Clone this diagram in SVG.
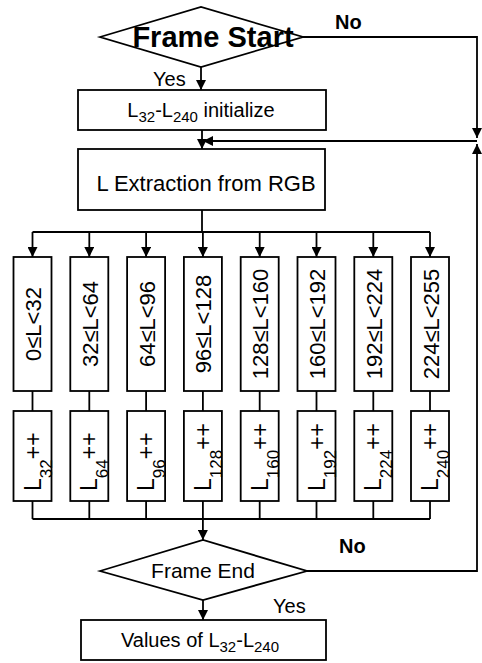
<svg xmlns="http://www.w3.org/2000/svg" width="482" height="663" viewBox="0 0 482 663">
<defs>
<marker id="ah" viewBox="0 0 10 10" refX="10" refY="5" markerWidth="11" markerHeight="10" markerUnits="userSpaceOnUse" orient="auto">
<path d="M0,0 L10,5 L0,10 Z" fill="#000"/>
</marker>
<style>
.box{fill:#fff;stroke:#000;stroke-width:1.8}
.ln{fill:none;stroke:#000;stroke-width:1.8}
.arr{fill:none;stroke:#000;stroke-width:1.8;marker-end:url(#ah)}
text{font-family:"Liberation Sans",Arial,sans-serif;fill:#000}
.rng{font-size:22px;text-anchor:middle}
.cnt{font-size:23px}
.sub{font-size:17px}
</style>
</defs>
<rect width="482" height="663" fill="#fff"/>
<g id="connectors">
<line class="arr" x1="201" y1="67" x2="201" y2="90"/>
<line class="arr" x1="202" y1="130" x2="202" y2="149"/>
<polyline class="arr" points="303,37 477,37 477,138"/>
<polyline class="arr" points="307,571 477,571 477,144"/>
<line class="arr" x1="477" y1="141" x2="203" y2="141"/>
<line class="ln" x1="202" y1="210" x2="202" y2="232"/>
<line class="ln" x1="32.5" y1="232" x2="430" y2="232"/>
<line class="arr" x1="32.5" y1="232" x2="32.5" y2="257"/>
<line class="arr" x1="89.3" y1="232" x2="89.3" y2="257"/>
<line class="arr" x1="146.1" y1="232" x2="146.1" y2="257"/>
<line class="arr" x1="202.9" y1="232" x2="202.9" y2="257"/>
<line class="arr" x1="259.7" y1="232" x2="259.7" y2="257"/>
<line class="arr" x1="316.5" y1="232" x2="316.5" y2="257"/>
<line class="arr" x1="373.3" y1="232" x2="373.3" y2="257"/>
<line class="arr" x1="430" y1="232" x2="430" y2="257"/>
<path class="ln" d="M32.5,391V411M89.3,391V411M146.1,391V411M202.9,391V411M259.7,391V411M316.5,391V411M373.3,391V411M430,391V411"/>
<path class="ln" d="M32.5,501V519M89.3,501V519M146.1,501V519M202.9,501V519M259.7,501V519M316.5,501V519M373.3,501V519M430,501V519M32.5,519H430"/>
<line class="arr" x1="202.9" y1="519" x2="202.9" y2="540"/>
<line class="arr" x1="203" y1="600" x2="203" y2="620"/>
</g>
<g id="frame-start">
<polygon class="box" points="100,37 201,7 303,37 201,67"/>
<text x="213" y="47" font-size="29" font-weight="bold" text-anchor="middle">Frame Start</text>
</g>
<text x="335" y="29" font-size="20" font-weight="bold">No</text>
<text x="153" y="86" font-size="20">Yes</text>
<g id="init">
<rect class="box" x="78" y="90" width="248" height="40"/>
<text x="201" y="117" font-size="20" text-anchor="middle">L<tspan font-size="15" dy="5">32</tspan><tspan dy="-5">-L</tspan><tspan font-size="15" dy="5">240</tspan><tspan dy="-5"> initialize</tspan></text>
</g>
<g id="extraction">
<rect class="box" x="78" y="149" width="247" height="61"/>
<text x="206" y="191" font-size="22" text-anchor="middle">L Extraction from RGB</text>
</g>
<g id="range-0"><rect class="box" x="13.5" y="257" width="38" height="134"/><text class="rng" transform="translate(41,324) rotate(-90)">0≤L&lt;32</text></g>
<g id="range-32"><rect class="box" x="70.3" y="257" width="38" height="134"/><text class="rng" transform="translate(97.8,324) rotate(-90)">32≤L&lt;64</text></g>
<g id="range-64"><rect class="box" x="127.1" y="257" width="38" height="134"/><text class="rng" transform="translate(154.6,324) rotate(-90)">64≤L&lt;96</text></g>
<g id="range-96"><rect class="box" x="183.9" y="257" width="38" height="134"/><text class="rng" transform="translate(211.4,324) rotate(-90)">96≤L&lt;128</text></g>
<g id="range-128"><rect class="box" x="240.7" y="257" width="38" height="134"/><text class="rng" transform="translate(268.2,324) rotate(-90)">128≤L&lt;160</text></g>
<g id="range-160"><rect class="box" x="297.5" y="257" width="38" height="134"/><text class="rng" transform="translate(325,324) rotate(-90)">160≤L&lt;192</text></g>
<g id="range-192"><rect class="box" x="354.3" y="257" width="38" height="134"/><text class="rng" transform="translate(381.8,324) rotate(-90)">192≤L&lt;224</text></g>
<g id="range-224"><rect class="box" x="411" y="257" width="38" height="134"/><text class="rng" transform="translate(438.5,324) rotate(-90)">224≤L&lt;255</text></g>
<g id="count-32"><rect class="box" x="13.5" y="411" width="38" height="90"/><text class="cnt" transform="translate(40.5,491) rotate(-90)">L<tspan class="sub" dy="11">32</tspan><tspan dy="-11">++</tspan></text></g>
<g id="count-64"><rect class="box" x="70.3" y="411" width="38" height="90"/><text class="cnt" transform="translate(97.3,491) rotate(-90)">L<tspan class="sub" dy="11">64</tspan><tspan dy="-11">++</tspan></text></g>
<g id="count-96"><rect class="box" x="127.1" y="411" width="38" height="90"/><text class="cnt" transform="translate(154.1,491) rotate(-90)">L<tspan class="sub" dy="11">96</tspan><tspan dy="-11">++</tspan></text></g>
<g id="count-128"><rect class="box" x="183.9" y="411" width="38" height="90"/><text class="cnt" transform="translate(210.9,491) rotate(-90)">L<tspan class="sub" dy="11">128</tspan><tspan dy="-11">++</tspan></text></g>
<g id="count-160"><rect class="box" x="240.7" y="411" width="38" height="90"/><text class="cnt" transform="translate(267.7,491) rotate(-90)">L<tspan class="sub" dy="11">160</tspan><tspan dy="-11">++</tspan></text></g>
<g id="count-192"><rect class="box" x="297.5" y="411" width="38" height="90"/><text class="cnt" transform="translate(324.5,491) rotate(-90)">L<tspan class="sub" dy="11">192</tspan><tspan dy="-11">++</tspan></text></g>
<g id="count-224"><rect class="box" x="354.3" y="411" width="38" height="90"/><text class="cnt" transform="translate(381.3,491) rotate(-90)">L<tspan class="sub" dy="11">224</tspan><tspan dy="-11">++</tspan></text></g>
<g id="count-240"><rect class="box" x="411" y="411" width="38" height="90"/><text class="cnt" transform="translate(438,491) rotate(-90)">L<tspan class="sub" dy="11">240</tspan><tspan dy="-11">++</tspan></text></g>
<g id="frame-end">
<polygon class="box" points="100,571 203,540 307,571 203,600"/>
<text x="203" y="578" font-size="21" text-anchor="middle">Frame End</text>
</g>
<text x="339" y="553" font-size="20" font-weight="bold">No</text>
<text x="273" y="613" font-size="20">Yes</text>
<g id="values">
<rect class="box" x="81" y="620" width="245" height="40"/>
<text x="200" y="647" font-size="20" text-anchor="middle">Values of L<tspan font-size="15" dy="5">32</tspan><tspan dy="-5">-L</tspan><tspan font-size="15" dy="5">240</tspan></text>
</g>
</svg>
